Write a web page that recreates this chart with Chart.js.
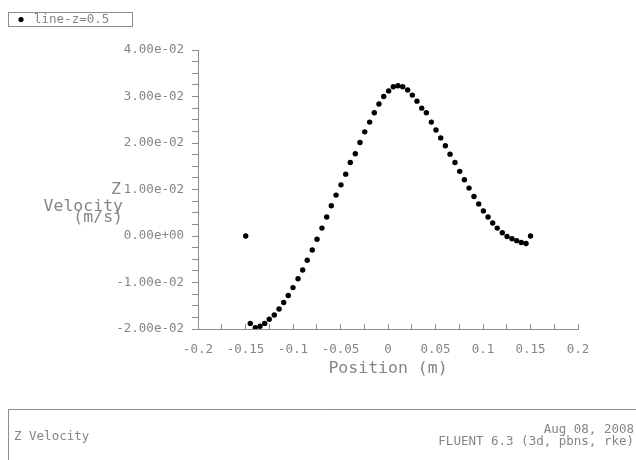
<!DOCTYPE html>
<html>
<head>
<meta charset="utf-8">
<script src="https://cdn.jsdelivr.net/npm/chart.js@4/dist/chart.umd.min.js"></script>
<style>
  html, body { margin: 0; padding: 0; background: #fff; }
  #wrap { width: 636px; height: 460px; position: relative; }
</style>
</head>
<body>
<div id="wrap"><canvas id="myChart" width="636" height="460"></canvas></div>
<script>
// data
var posX = [-0.1498, -0.145, -0.1397, -0.1347, -0.1298, -0.125, -0.1197, -0.1147, -0.1098, -0.105,
            -0.1, -0.0947, -0.0898, -0.085, -0.0797, -0.0747, -0.0695, -0.0645, -0.0597, -0.0547,
            -0.0495, -0.0445, -0.0397, -0.0344, -0.0295, -0.0245, -0.0193, -0.0144, -0.0095, -0.0045,
            0.0007, 0.0056, 0.0105, 0.0155, 0.0207, 0.0256, 0.0305, 0.0355, 0.0404, 0.0456,
            0.0505, 0.0555, 0.0604, 0.0653, 0.0705, 0.0755, 0.0804, 0.0853, 0.0905, 0.0955,
            0.1004, 0.1053, 0.1102, 0.115, 0.1203, 0.1253, 0.1305, 0.1354, 0.1403, 0.1453, 0.15];
var zVel = [0.0, -0.0188, -0.0197, -0.0194, -0.0188, -0.0179, -0.0170, -0.0157, -0.0143, -0.0128,
            -0.0111, -0.0092, -0.0073, -0.0052, -0.0030, -0.0007, 0.0017, 0.0041, 0.0065, 0.0088,
            0.0110, 0.0133, 0.0158, 0.0177, 0.0201, 0.0224, 0.0245, 0.0265, 0.0284, 0.0300,
            0.0312, 0.0321, 0.0323, 0.0321, 0.0314, 0.0303, 0.0290, 0.0275, 0.0265, 0.0245,
            0.0228, 0.0211, 0.0194, 0.0176, 0.0158, 0.0139, 0.0121, 0.0103, 0.0085, 0.0069,
            0.0054, 0.0041, 0.0028, 0.0017, 0.0007, -0.0001, -0.0006, -0.0010, -0.0014, -0.0016, 0.0];

var seriesName = 'line-z=0.5';
var xTitle = 'Position (m)';
var yTitle = ['Z', 'Velocity', '(m/s)'];
var footLeft = 'Z Velocity';
var footRight = ['Aug 08, 2008', 'FLUENT 6.3 (3d, pbns, rke)'];

var grey = '#8c8c8c';
var textGrey = '#858585';
var mono = '"DejaVu Sans Mono", "Liberation Mono", monospace';

var pts = posX.map(function (x, i) { return { x: x, y: zVel[i] }; });

function isMult(v, step) {
  var r = v / step;
  return Math.abs(r - Math.round(r)) < 1e-6;
}
function expFmt(v) {
  if (Math.abs(v) < 1e-12) v = 0;
  return v.toExponential(2).replace(/e([+-])(\d)$/, 'e$10$2');
}

// titles, legend box and footer
var decor = {
  id: 'decor',
  afterDraw: function (chart) {
    var c = chart.ctx, a = chart.chartArea;
    c.save();
    c.fillStyle = textGrey;
    c.font = '16.5px ' + mono;
    c.textAlign = 'center';
    c.textBaseline = 'middle';
    c.fillText(xTitle, (a.left + a.right) / 2, 369);

    c.textAlign = 'right';
    c.fillText(yTitle[0], 121, 190);
    c.fillText(yTitle[1], 123, 207);
    c.fillText(yTitle[2], 123, 218);

    // legend
    c.strokeStyle = grey;
    c.lineWidth = 1;
    c.strokeRect(8.5, 12.5, 124, 14);
    c.fillStyle = '#000';
    c.beginPath();
    c.arc(21, 19.5, 2.6, 0, Math.PI * 2);
    c.fill();
    c.fillStyle = textGrey;
    c.font = '12.5px ' + mono;
    c.textAlign = 'left';
    c.fillText(seriesName, 34, 20);

    // footer box
    c.beginPath();
    c.moveTo(8.5, 461);
    c.lineTo(8.5, 409.5);
    c.lineTo(636, 409.5);
    c.stroke();
    c.fillText(footLeft, 14, 437);
    c.textAlign = 'right';
    c.fillText(footRight[0], 634, 430);
    c.fillText(footRight[1], 634, 442);
    c.restore();
  }
};

var ctx = document.getElementById('myChart');

new Chart(ctx, {
  type: 'scatter',
  data: {
    datasets: [{
      label: seriesName,
      data: pts,
      backgroundColor: '#000',
      borderColor: '#000',
      borderWidth: 0,
      pointRadius: 2.7,
      pointHoverRadius: 2.7
    }]
  },
  options: {
    responsive: false,
    animation: false,
    events: [],
    layout: { padding: { top: 50, right: 58, bottom: 0, left: 0 } },
    plugins: { legend: { display: false }, tooltip: { enabled: false } },
    scales: {
      x: {
        type: 'linear',
        min: -0.2,
        max: 0.2,
        afterFit: function (s) { s.height = 131; },
        border: { display: true, color: grey, width: 1 },
        grid: { drawOnChartArea: false, drawTicks: true, tickLength: -5, color: grey },
        ticks: {
          stepSize: 0.025,
          padding: 18,
          color: textGrey,
          font: { family: mono, size: 12.5 },
          maxRotation: 0,
          autoSkip: false,
          callback: function (v) {
            if (!isMult(v, 0.05)) return '';
            return String(parseFloat(v.toFixed(3)));
          }
        }
      },
      y: {
        type: 'linear',
        min: -0.02,
        max: 0.04,
        afterFit: function (s) { s.width = 198; },
        border: { display: true, color: grey, width: 1 },
        grid: { drawOnChartArea: false, drawTicks: true, tickLength: 6, color: grey },
        ticks: {
          stepSize: 0.0025,
          padding: 8,
          color: textGrey,
          font: { family: mono, size: 12.5 },
          autoSkip: false,
          callback: function (v) {
            if (!isMult(v, 0.01)) return '';
            return expFmt(v);
          }
        }
      }
    }
  },
  plugins: [decor]
});
</script>
</body>
</html>
